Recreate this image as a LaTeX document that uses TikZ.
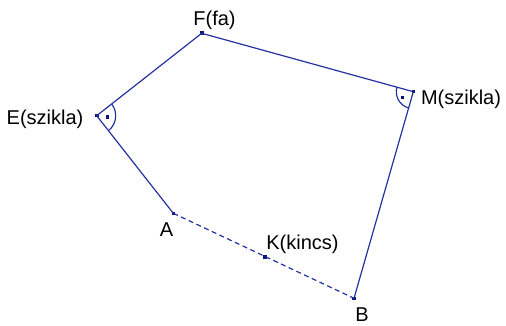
\documentclass[tikz,border=0pt]{standalone}
\usepackage{fontspec}
\setmainfont{Liberation Sans}
\usepackage{tikz}
\usetikzlibrary{angles,calc}
\definecolor{mapblue}{HTML}{2432A0}
\definecolor{mapdot}{HTML}{0A1478}

\begin{document}
\begin{tikzpicture}[
  x=1pt, y=-1pt,
  font=\fontsize{20}{24}\selectfont,
  pt/.style={rectangle, fill=mapdot, inner sep=0pt, minimum size=3.6pt},
  side/.style={mapblue, line width=1.2pt},
  route/.style={mapblue, line width=1.2pt, dash pattern=on 5pt off 3.5pt},
  rmark/.style={draw=mapblue, line width=1.2pt, pic text={},
                pic text options={fill=mapdot, inner sep=0pt, minimum size=3.4pt}},
  lbl/.style={inner sep=0pt, anchor=base},
]
\useasboundingbox (0,0) rectangle (506,326);
% points of the map
\node[pt] (E) at (96.7,115.7) {};
\node[pt] (F) at (201.7,33.3) {};
\node[pt] (M) at (413.3,91.7) {};
\node[pt] (B) at (354,298.3) {};
\node[pt] (A) at (173.3,213.3) {};
\node[pt] (K) at (265,256.7) {};
% sides
\draw[side] (A.center) -- (E.center) -- (F.center) -- (M.center) -- (B.center);
\draw[route] (A.center) -- (B.center);
% right angles
\pic[rmark, angle radius=19, angle eccentricity=0.58] {angle=A--E--F};
\pic[rmark, angle radius=17, angle eccentricity=0.72] {angle=F--M--B};
% labels
\node[lbl] (lE) at (45,125) {E(szikla)};
\node[lbl] (lF) at (214.5,26) {F(fa)};
\node[lbl] (lM) at (461,105) {M(szikla)};
\node[lbl] (lA) at (166.5,236) {A};
\node[lbl] (lK) at (302.5,249) {K(kincs)};
\node[lbl] (lB) at (362,321) {B};
\end{tikzpicture}
\end{document}
